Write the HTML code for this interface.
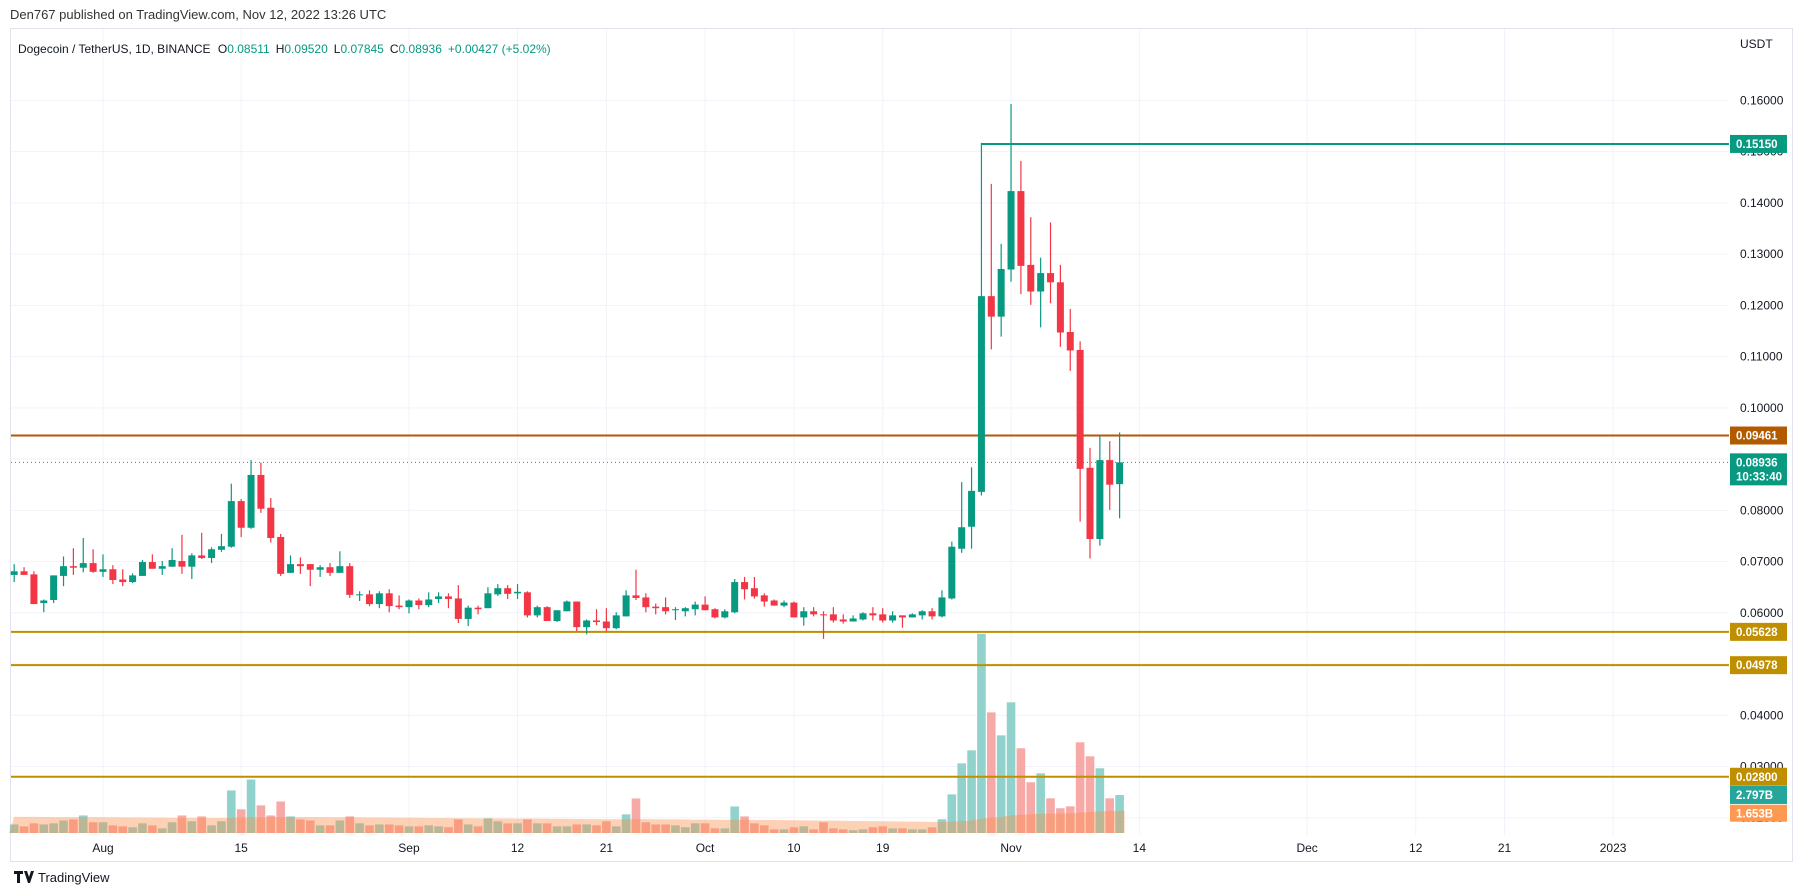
<!DOCTYPE html>
<html><head><meta charset="utf-8"><style>
html,body{margin:0;padding:0;background:#fff;}
svg{display:block;font-family:"Liberation Sans",sans-serif;}
</style></head><body>
<svg id="chart" width="1810" height="896" viewBox="0 0 1810 896" xmlns="http://www.w3.org/2000/svg">
<rect x="0" y="0" width="1810" height="896" fill="#ffffff"/>
<text x="10" y="19" font-size="13" fill="#333">Den767 published on TradingView.com, Nov 12, 2022 13:26 UTC</text>
<rect x="10.5" y="28.5" width="1782" height="833" fill="none" stroke="#e0e3eb"/>
<g id="grid"></g>
<g id="vol"></g>
<g id="levels"></g>
<g id="candles"></g>
<g id="axis"></g>
<text x="18" y="53" font-size="12" fill="#131722">Dogecoin / TetherUS, 1D, BINANCE <tspan dx="4">O</tspan><tspan fill="#089981">0.08511</tspan><tspan dx="6">H</tspan><tspan fill="#089981">0.09520</tspan><tspan dx="6">L</tspan><tspan fill="#089981">0.07845</tspan><tspan dx="6">C</tspan><tspan fill="#089981">0.08936</tspan><tspan dx="6" fill="#089981">+0.00427 (+5.02%)</tspan></text>
<g>
<path d="M14 871h9v3h-3v9h-3v-9h-3z M24 871h3l2 6 2-6h3l-4 12h-2z" fill="#131722"/>
<text x="38" y="882" font-size="13" fill="#131722">TradingView</text>
</g>
</svg>
<script>
const opens=[.0674,.0681,.0675,.0619,.0625,.0672,.0691,.0688,.0697,.0680,.0685,.0665,.0660,.0672,.0699,.0686,.0690,.0701,.0690,.0712,.0707,.0723,.0729,.0818,.0766,.0869,.0805,.0748,.0678,.0695,.0695,.0684,.0689,.0678,.0691,.0635,.0636,.0617,.0638,.0614,.0611,.0624,.0615,.0627,.0632,.0628,.0588,.0610,.0609,.0636,.0648,.0638,.0640,.0595,.0611,.0584,.0603,.0622,.0572,.0585,.0583,.0570,.0593,.0634,.0630,.0612,.0611,.0605,.0603,.0607,.0616,.0607,.0591,.0601,.0660,.0648,.0634,.0624,.0614,.0620,.0591,.0603,.0597,.0597,.0587,.0583,.0587,.0599,.0597,.0585,.0595,.0591,.0595,.0603,.0593,.0628,.0725,.0768,.0836,.1218,.1178,.1270,.1423,.1279,.1227,.1263,.1245,.1148,.1113,.0883,.0744,.0898,.08511];
const highs=[.0695,.0689,.0681,.0626,.0673,.0710,.0726,.0746,.0724,.0714,.0693,.0685,.0677,.0703,.0714,.0701,.0726,.0752,.0716,.0756,.0728,.0754,.0852,.0822,.0898,.0893,.0824,.0754,.0712,.0708,.0695,.0693,.0697,.0720,.0697,.0642,.0644,.0642,.0646,.0634,.0626,.0628,.0640,.0640,.0638,.0654,.0614,.0614,.0650,.0656,.0654,.0656,.0642,.0614,.0613,.0605,.0624,.0622,.0587,.0607,.0609,.0601,.0644,.0684,.0638,.0618,.0630,.0611,.0611,.0622,.0632,.0609,.0607,.0666,.0670,.0670,.0638,.0626,.0624,.0622,.0611,.0611,.0603,.0611,.0597,.0595,.0601,.0611,.0609,.0603,.0595,.0599,.0605,.0609,.0644,.0739,.0855,.0884,.1517,.1437,.1320,.1593,.1482,.1372,.1293,.1362,.1279,.1193,.1130,.0922,.0946,.0935,.0952];
const lows=[.0660,.0674,.0617,.0601,.0619,.0652,.0674,.0679,.0678,.0670,.0656,.0652,.0658,.0672,.0686,.0674,.0690,.0676,.0666,.0705,.0697,.0719,.0727,.0748,.0764,.0795,.0737,.0672,.0678,.0676,.0652,.0670,.0672,.0678,.0629,.0623,.0613,.0609,.0601,.0607,.0599,.0607,.0611,.0619,.0609,.0580,.0574,.0597,.0609,.0633,.0627,.0627,.0591,.0591,.0584,.0582,.0603,.0564,.0558,.0576,.0564,.0568,.0593,.0625,.0601,.0597,.0597,.0586,.0593,.0595,.0605,.0589,.0589,.0599,.0626,.0628,.0612,.0614,.0611,.0591,.0575,.0593,.0549,.0581,.0579,.0583,.0585,.0585,.0581,.0581,.0571,.0591,.0587,.0587,.0591,.0626,.0717,.0725,.0829,.1114,.1139,.1246,.1222,.1201,.1157,.1204,.1119,.1072,.0778,.0706,.0731,.0801,.07845];
const closes=[.0681,.0674,.0617,.0624,.0673,.0691,.0688,.0697,.0680,.0685,.0664,.0660,.0673,.0699,.0686,.0691,.0703,.0690,.0712,.0707,.0724,.0730,.0818,.0766,.0869,.0803,.0746,.0676,.0695,.0691,.0684,.0689,.0678,.0691,.0635,.0636,.0617,.0638,.0613,.0611,.0624,.0615,.0626,.0632,.0627,.0588,.0610,.0607,.0638,.0648,.0637,.0641,.0595,.0611,.0584,.0605,.0622,.0572,.0585,.0582,.0570,.0595,.0634,.0629,.0611,.0609,.0603,.0607,.0609,.0616,.0605,.0591,.0603,.0660,.0646,.0632,.0622,.0614,.0620,.0591,.0603,.0597,.0595,.0585,.0583,.0589,.0599,.0595,.0585,.0595,.0591,.0597,.0603,.0593,.0630,.0729,.0767,.0838,.1218,.1178,.1271,.1423,.1277,.1227,.1263,.1245,.1147,.1112,.0881,.0744,.0898,.0850,.08936];
const volumes=[.63,.49,.71,.63,.71,.92,1.00,1.29,.79,.79,.56,.49,.42,.71,.56,.34,.79,1.29,.86,1.22,.56,.86,3.13,1.74,3.93,2.03,1.29,2.32,1.22,1.00,.92,.56,.56,.92,1.22,.71,.56,.63,.63,.56,.49,.49,.56,.49,.42,1.00,.63,.49,1.08,.86,.71,.71,1.00,.71,.71,.49,.49,.63,.63,.56,.86,.49,1.37,2.54,.79,.63,.63,.56,.42,.71,.71,.34,.34,1.95,1.22,.71,.56,.27,.27,.42,.49,.27,.79,.34,.27,.20,.27,.42,.49,.34,.34,.27,.27,.42,1.01,2.84,5.12,6.08,14.65,8.87,7.18,9.61,6.23,3.73,4.39,2.55,1.82,1.96,6.67,5.64,4.76,2.55,2.797];
const firstDay=-9;
const priorVolumeAvg=1.2;
const maPeriod=100;
const priceTicks=[0.16,0.15,0.14,0.13,0.12,0.11,0.10,0.09,0.08,0.07,0.06,0.05,0.04,0.03,0.02];
const priceTickLabels=["0.16000","0.15000","0.14000","0.13000","0.12000","0.11000","0.10000","0.09000","0.08000","0.07000","0.06000","0.05000","0.04000","0.03000","0.02000"];
const dateDays=[0,14,31,42,51,61,70,79,92,105,122,133,142,153];
const dateLabels=["Aug","15","Sep","12","21","Oct","10","19","Nov","14","Dec","12","21","2023"];
const levelPrices=[0.0946,0.05628,0.04978,0.028];
const levelLabels=["0.09461","0.05628","0.04978","0.02800"];
const levelColors=["#b25a00","#bf8f00","#bf8f00","#bf8f00"];
const rayPrice=0.1515, rayLabel="0.15150", rayStartCandle=98;
const lastPrice=0.08936, lastLabel="0.08936", countdown="10:33:40";
const volLabel="2.797B", maLabel="1.653B";

const NS="http://www.w3.org/2000/svg";
const PLOT_L=11, PLOT_R=1729, VOL_BASE=833, VOL_PX=13.6;
function yP(p){return 100.4+(0.16-p)*5124;}
function xD(d){return 103+d*9.87;}
function yV(v){return VOL_BASE-v*VOL_PX;}
function mk(tag,attrs,parent){const e=document.createElementNS(NS,tag);for(const k in attrs)e.setAttribute(k,attrs[k]);parent.appendChild(e);return e;}
const G=id=>document.getElementById(id);

// grid
priceTicks.forEach((p,i)=>{
  const l=mk('line',{x1:PLOT_L,x2:PLOT_R,y1:yP(p),y2:yP(p),stroke:'#f0f3fa','stroke-width':1},G('grid'));
  
  
});
dateDays.forEach((d,i)=>{
  const l=mk('line',{x1:xD(d),x2:xD(d),y1:29,y2:835,stroke:'#f0f3fa','stroke-width':1},G('grid'));
  
  
  const t=mk('text',{x:xD(d),y:852,'font-size':12,fill:'#131722','text-anchor':'middle'},G('axis'));
  t.textContent=dateLabels[i];
  
  
});

// volume
const cw=7;
volumes.forEach((v,i)=>{
  const up=closes[i]>=opens[i];
  const x=xD(firstDay+i);
  const r=mk('rect',{x:x-4.3,y:yV(v),width:8.6,height:v*VOL_PX,fill:up?'#92d2cc':'#f7a9a7'},G('vol'));
  
  
});
const ma=volumes.map((v,i)=>{let s=0,n=0;for(let j=Math.max(0,i-maPeriod+1);j<=i;j++){s+=volumes[j];n++;}return (s+(maPeriod-n)*priorVolumeAvg)/maPeriod;});
let d='M'+(xD(firstDay)-5)+' '+VOL_BASE;
ma.forEach((m,i)=>{d+=' L'+xD(firstDay+i)+' '+yV(m);});
d+=' L'+(xD(firstDay+ma.length-1)+5)+' '+yV(ma[ma.length-1])+' L'+(xD(firstDay+ma.length-1)+5)+' '+VOL_BASE+'Z';
const area=mk('path',{d:d,fill:'rgba(250,140,70,0.4)'},G('vol'));



// levels
levelPrices.forEach((p,i)=>{
  const l=mk('line',{x1:PLOT_L,x2:PLOT_R,y1:yP(p),y2:yP(p),stroke:levelColors[i],'stroke-width':2},G('levels'));
  
  
});
const ray=mk('line',{x1:xD(firstDay+rayStartCandle),x2:PLOT_R,y1:yP(rayPrice),y2:yP(rayPrice),stroke:'#089981','stroke-width':2},G('levels'));


const dl=mk('line',{x1:PLOT_L,x2:PLOT_R,y1:yP(lastPrice),y2:yP(lastPrice),stroke:'#089981','stroke-width':1,'stroke-dasharray':'1 3'},G('levels'));



// candles
opens.forEach((o,i)=>{
  const c=closes[i],up=c>=o,col=up?'#089981':'#f23645';
  const x=xD(firstDay+i);
  const g=mk('g',{},G('candles'));
  
  
  mk('line',{x1:x,x2:x,y1:yP(highs[i]),y2:yP(lows[i]),stroke:col,'stroke-width':1.2},g);
  const top=yP(Math.max(o,c)),bot=yP(Math.min(o,c));
  mk('rect',{x:x-cw/2,y:top,width:cw,height:Math.max(1,bot-top),fill:col},g);
});

// axis
const USD=mk('text',{x:1740,y:48,'font-size':12,fill:'#131722'},G('axis'));
USD.textContent='USDT';


priceTicks.forEach((p,i)=>{
  const t=mk('text',{x:1740,y:yP(p)+4,'font-size':12,fill:'#131722'},G('axis'));
  t.textContent=priceTickLabels[i];
  
  
});
function box(y,h,color,lines,name){
  const g=mk('g',{},G('axis'));
  
  
  mk('rect',{x:1730,y:y,width:57,height:h,fill:color},g);
  lines.forEach((s,k)=>{const t=mk('text',{x:1736,y:y+13+k*14,'font-size':11.5,'font-weight':'bold',fill:'#fff'},g);t.textContent=s;});
}
box(yP(rayPrice)-9,18,'#089981',[rayLabel],'ray-price-label');
levelPrices.forEach((p,i)=>box(yP(p)-9,18,levelColors[i],[levelLabels[i]],'level-price-label'));
box(yP(lastPrice)-9,32,'#089981',[lastLabel,countdown],'last-price-label');
box(yV(volumes[volumes.length-1])-9,18,'#26a69a',[volLabel],'volume-label');
box(yV(ma[ma.length-1])-6,17,'#ff9850',[maLabel],'volume-ma-label');
</script>
</body></html>
